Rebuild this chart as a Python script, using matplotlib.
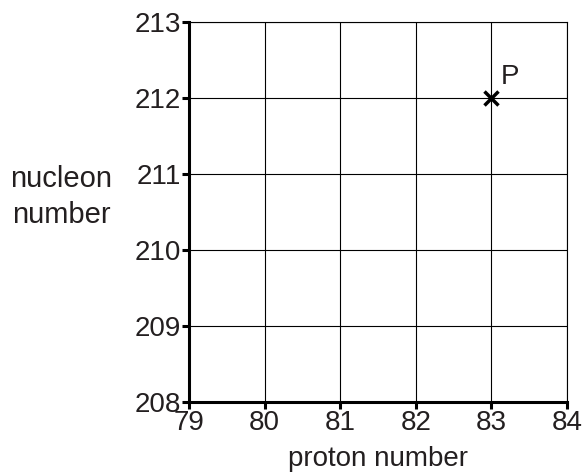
import matplotlib
matplotlib.use("Agg")
from matplotlib import pyplot as plt

plt.rcParams['font.family'] = ['Liberation Sans', 'DejaVu Sans']

proton_ticks = [79, 80, 81, 82, 83, 84]
nucleon_ticks = [208, 209, 210, 211, 212, 213]
point_x = [83]
point_y = [212]
point_label = "P"

txt = "#231f20"

fig = plt.figure(figsize=(5.85, 4.75), dpi=100)
ax = fig.add_axes([0.323, 0.1537, 0.646, 0.8])

ax.set_xlim(proton_ticks[0], proton_ticks[-1])
ax.set_ylim(nucleon_ticks[0], nucleon_ticks[-1])
ax.set_xticks(proton_ticks)
ax.set_yticks(nucleon_ticks)
ax.grid(True, color="black", linewidth=0.8)
ax.set_axisbelow(True)

for side in ("top", "right"):
    ax.spines[side].set_linewidth(0.8)
for side in ("left", "bottom"):
    ax.spines[side].set_linewidth(2.2)

ax.tick_params(axis="both", direction="out", length=5, width=2.2,
               labelsize=20, pad=1, labelcolor=txt)

ax.plot(point_x, point_y, marker="x", color="black", markersize=10,
        markeredgewidth=2.5, linestyle="none", clip_on=False)
ax.text(point_x[0] + 0.13, point_y[0] + 0.1, point_label, fontsize=20,
        ha="left", va="bottom", color=txt)

ax.set_xlabel("proton number", fontsize=20, labelpad=7, color=txt)
fig.text(61 / 585, 1 - 197 / 475, "nucleon\nnumber", fontsize=21,
         ha="center", va="center", linespacing=1.4, color=txt)

fig.savefig("out.png", dpi=100)
